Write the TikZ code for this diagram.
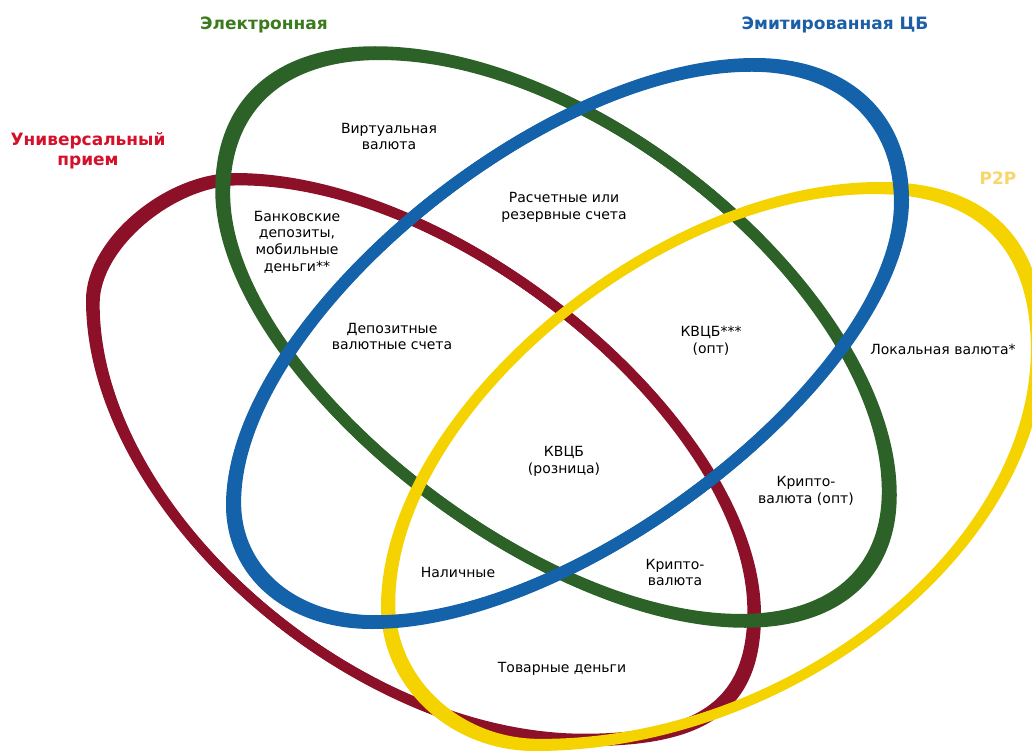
\documentclass[tikz,border=0pt]{standalone}
\usepackage{fontspec}
\setmainfont{DejaVu Sans}
\definecolor{cred}{RGB}{140,16,40}
\definecolor{cgreen}{RGB}{44,97,40}
\definecolor{cblue}{RGB}{20,98,170}
\definecolor{cyellow}{RGB}{245,211,0}
\definecolor{tred}{RGB}{213,16,43}
\definecolor{tgreen}{RGB}{60,122,30}
\definecolor{tblue}{RGB}{28,95,168}
\definecolor{tyellow}{RGB}{249,214,105}
\tikzset{
  lbl/.style={font=\fontsize{14}{16.7}\selectfont, align=center, text=black, inner sep=0pt},
  ttl/.style={font=\fontsize{17}{20}\selectfont\bfseries, align=center, inner sep=0pt},
}
% closed centre lines: top -> right -> bottom -> left -> top
\newcommand\redloop[1]{\draw[cred,#1] (235,178)
  .. controls (459.6,178) and (756,426.7) .. (756,615)
  .. controls (756,704.1) and (707.4,741) .. (590,741)
  .. controls (354,741) and (91,508.6) .. (91,300)
  .. controls (91,242.7) and (167.3,178) .. cycle;}
\newcommand\greenloop[1]{\draw[cgreen,#1] (375,52)
  .. controls (601,52) and (891,301) .. (891,495)
  .. controls (891,574.6) and (836.5,622) .. (745,622)
  .. controls (529.6,622) and (221,367.6) .. (221,190)
  .. controls (221,103) and (278,52) .. cycle;}
\newcommand\blueloop[1]{\draw[cblue,#1] (755,64)
  .. controls (845.3,64) and (903,117) .. (903,200)
  .. controls (903,369.2) and (584.4,623) .. (372,623)
  .. controls (290.2,623) and (232,573.9) .. (232,505)
  .. controls (232,324.2) and (540.6,64) .. cycle;}
\newcommand\yellowloop[1]{\draw[cyellow,#1] (880,187)
  .. controls (984.6,187) and (1040,241.7) .. (1040,345)
  .. controls (1040,547.5) and (790,746) .. (535,746)
  .. controls (452.6,746) and (386,683.9) .. (386,607)
  .. controls (386,415.9) and (655.2,187) .. cycle;}
\begin{document}
\begin{tikzpicture}[x=1pt,y=-1pt]
\useasboundingbox (0,0) rectangle (1032,751);
\clip (0,0) rectangle (1032,751);
\fill[white] (0,0) rectangle (1032,751);
% rings (red bottom, then green, yellow, blue on top)
\redloop{line width=10pt}
\redloop{line width=10pt, shift={(423,460)}, rotate=-36.5, xscale=0.9875, rotate=36.5, shift={(-423,-460)}}
\greenloop{line width=11.5pt}
\greenloop{line width=11.5pt, shift={(556,337)}, rotate=-37, xscale=0.988, rotate=37, shift={(-556,-337)}}
\yellowloop{line width=10pt}
\yellowloop{line width=10pt, shift={(713,466)}, rotate=31, xscale=0.986, rotate=-31, shift={(-713,-466)}}
\blueloop{line width=12pt}
\blueloop{line width=12pt, shift={(567,343)}, rotate=33.5, xscale=0.99, rotate=-33.5, shift={(-567,-343)}}
% titles
\node[ttl, text=tgreen] (tEl) at (264,25) {Электронная};
\node[ttl, text=tblue] (tEm) at (835,25) {Эмитированная ЦБ};
\node[ttl, text=tred] (tUn) at (88,151) {Универсальный\\прием};
\node[ttl, text=tyellow] (tP2P) at (998,178) {P2P};
% labels
\node[lbl] (virt) at (389,136.5) {Виртуальная\\валюта};
\node[lbl] (bank) at (297,242) {Банковские\\депозиты,\\мобильные\\деньги**};
\node[lbl] (depo) at (392,336.5) {Депозитные\\валютные счета};
\node[lbl] (rasch) at (564,207.5) {Расчетные или\\резервные счета};
\node[lbl] (kvopt) at (711,340.5) {КВЦБ***\\(опт)};
\node[lbl] (lok) at (943,349) {Локальная валюта*};
\node[lbl] (kvroz) at (564,461.5) {КВЦБ\\(розница)};
\node[lbl] (kropt) at (806,491) {Крипто-\\валюта (опт)};
\node[lbl] (kr) at (675,572.5) {Крипто-\\валюта};
\node[lbl] (nal) at (458,572) {Наличные};
\node[lbl] (tov) at (562,669) {Товарные деньги};
\end{tikzpicture}
\end{document}
